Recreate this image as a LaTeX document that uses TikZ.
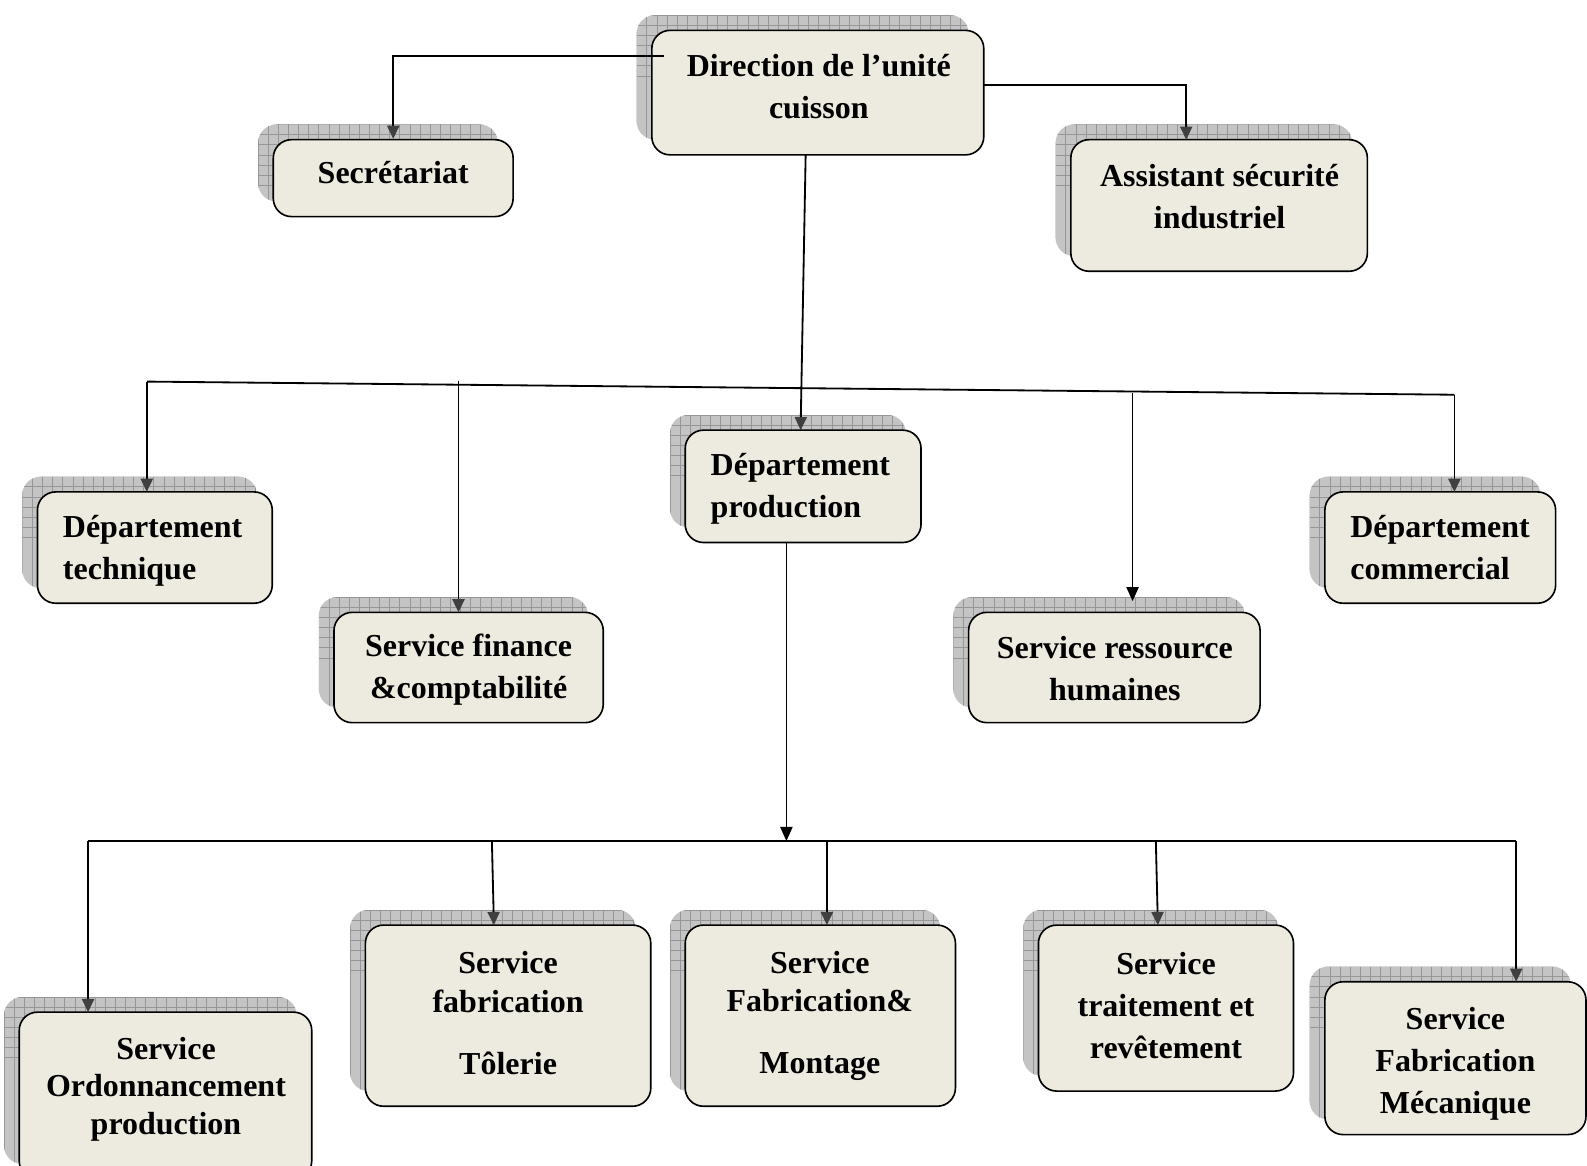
\documentclass[tikz,border=0pt]{standalone}
\usepackage{fontspec}
\setmainfont{Liberation Serif}
\usetikzlibrary{arrows.meta,fit}
\definecolor{boxfill}{RGB}{237,235,224}
\definecolor{shfill}{RGB}{196,196,196}
\definecolor{shgrid}{RGB}{150,150,150}
\definecolor{tipgray}{RGB}{64,64,64}
\tikzset{
 orgbox/.style={draw=black, line width=1.6pt, fill=boxfill, rounded corners=18pt, inner sep=0pt},
 lbl/.style={inner sep=0pt, font=\fontsize{31.6}{41.5}\selectfont\bfseries, align=center},
 conn/.style={line width=1.8pt, black},
 grayarr/.style={conn, -{Triangle[length=13pt,width=12pt,color=tipgray]}},
 blackarr/.style={conn, -{Triangle[length=14pt,width=12pt]}},
}
\newcommand\obox[5]{%
 \begin{scope}
  \clip[rounded corners=18pt] ({#2-15},{#3-15}) rectangle ({#4-15},{#5-15});
  \fill[shfill] ({#2-15},{#3-15}) rectangle ({#4-15},{#5-15});
  \foreach \gx in {#2,...,#4} {\pgfmathparse{mod(\gx-#2,10)==0 ? 1 : 0}\ifnum\pgfmathresult=1 \draw[shgrid, line width=0.7pt] ({\gx-15},{#3-15}) -- ({\gx-15},{#5});\fi}
  \foreach \gy in {0,10,...,60} {\draw[shgrid, line width=0.7pt] ({#2-15},{#3-15+\gy}) -- ({#4},{#3-15+\gy});}
 \end{scope}
 \node[orgbox, fit={(#2,#3) (#4,#5)}] (#1) {};
}
\begin{document}
\begin{tikzpicture}[x=1pt,y=-1pt]
\fill[white] (0,0) rectangle (1568,1152);
\useasboundingbox (0,0) rectangle (1568,1152);
% boxes
\obox{dir}{644}{30}{972}{153}
\obox{sec}{270}{138}{507}{214}
\obox{asi}{1058}{138}{1351}{268}
\obox{dp}{677}{425}{910}{536}
\obox{dt}{37}{486}{269}{596}
\obox{fin}{330}{605}{596}{714}
\obox{rh}{957}{605}{1245}{714}
\obox{dc}{1309}{486}{1537}{596}
\obox{ord}{19}{1000}{308}{1165}
\obox{tol}{361}{914}{643}{1093}
\obox{mon}{677}{914}{944}{1093}
\obox{tra}{1026}{914}{1278}{1078}
\obox{mec}{1309}{970}{1567}{1121}
% coordinates
\coordinate (dL) at (656,55);
\coordinate (dR) at (972,84);
\coordinate (asiT) at (1172,138);
\coordinate (dB) at (796,153);
\coordinate (dpT) at (791,425);
\coordinate (b1L) at (145,377);
\coordinate (b1R) at (1437,390);
\coordinate (dtT) at (145,486);
\coordinate (dcT) at (1437,486);
\coordinate (finTop) at (453,376);
\coordinate (finT) at (453,605);
\coordinate (rhTop) at (1119,388);
\coordinate (rhT) at (1119,594);
\coordinate (dpB) at (777,536);
\coordinate (b2M) at (777,831);
\coordinate (b2L) at (87,831);
\coordinate (b2R) at (1498,831);
\coordinate (ordT) at (87,1000);
\coordinate (t1) at (486,831);
\coordinate (tolT) at (488,914);
\coordinate (t2) at (817,831);
\coordinate (monT) at (817,914);
\coordinate (t3) at (1142,831);
\coordinate (traT) at (1144,914);
\coordinate (mecT) at (1498,970);
% connectors
\draw[grayarr] (dL) -| (sec.north);
\draw[grayarr] (dR) -| (asiT);
\draw[grayarr] (dB) -- (dpT);
\draw[conn] (b1L) -- (b1R);
\draw[grayarr] (b1L) -- (dtT);
\draw[grayarr] (b1R) -- (dcT);
\draw[grayarr] (finTop) -- (finT);
\draw[blackarr] (rhTop) -- (rhT);
\draw[blackarr] (dpB) -- (b2M);
\draw[conn] (b2L) -- (b2R);
\draw[grayarr] (b2L) -- (ordT);
\draw[grayarr] (t1) -- (tolT);
\draw[grayarr] (t2) -- (monT);
\draw[grayarr] (t3) -- (traT);
\draw[grayarr] (b2R) -- (mecT);
% texts
\node[lbl] (dirT) at (809,86) {Direction de l’unité\\cuisson};
\node[lbl] (secX) at (388.5,170) {Secrétariat};
\node[lbl] (asiX) at (1205,194) {Assistant sécurité\\industriel};
\node[lbl, align=left, anchor=west] (dpX) at (702,482.5) {Département\\production};
\node[lbl, align=left, anchor=west] (dtX) at (62,544) {Département\\technique};
\node[lbl, align=left, anchor=west] (dcX) at (1334,541) {Département\\commercial};
\node[lbl] (finX) at (463,662) {Service finance\\\&comptabilité};
\node[lbl] (rhX) at (1101.5,661) {Service ressource\\humaines};
\node[lbl, font=\fontsize{31.6}{37}\selectfont\bfseries] (ordX) at (164,1076) {Service\\Ordonnancement\\production};
\node[lbl, font=\fontsize{31.6}{38}\selectfont\bfseries] (tolX) at (502,1001) {Service\\fabrication\\[23pt]Tôlerie};
\node[lbl, font=\fontsize{31.6}{38}\selectfont\bfseries] (monX) at (810,1003.5) {Service\\Fabrication\&\\[23pt]Montage};
\node[lbl] (traX) at (1152,993.5) {Service\\traitement et\\revêtement};
\node[lbl] (mecX) at (1438,1051) {Service\\Fabrication\\Mécanique};
\end{tikzpicture}
\end{document}
